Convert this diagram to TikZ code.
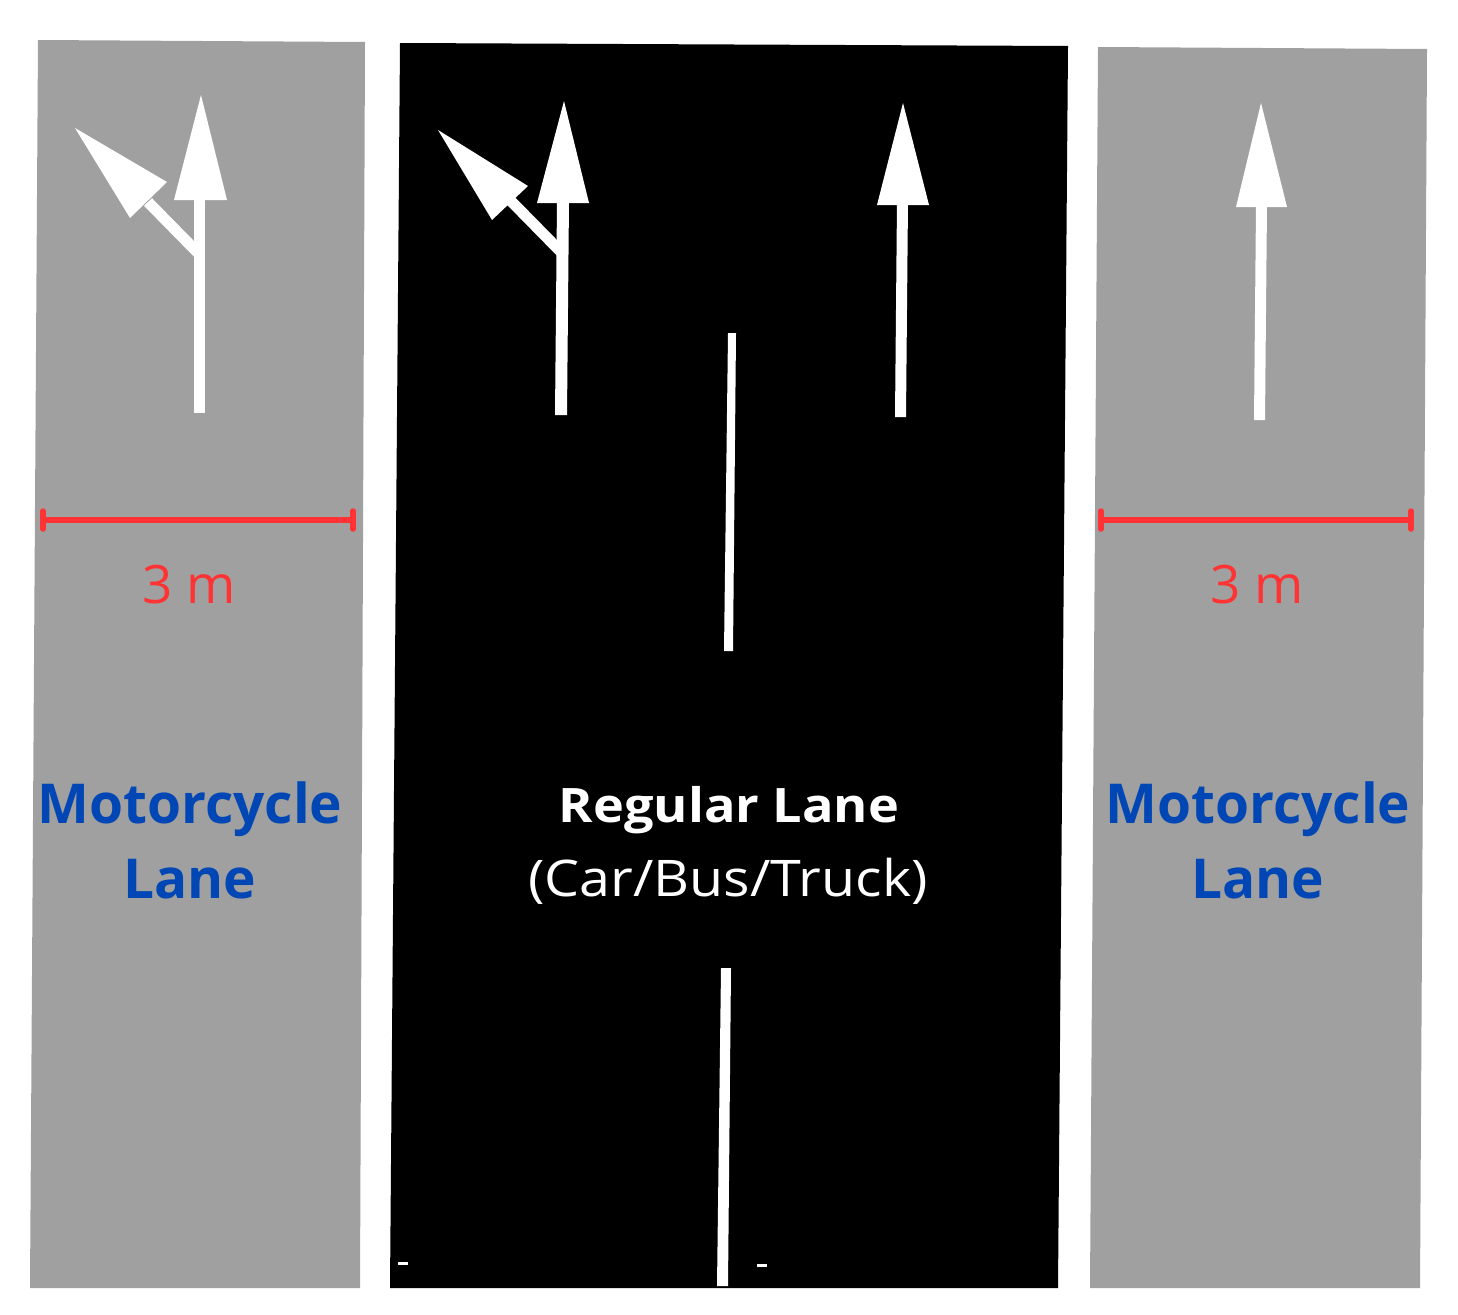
\documentclass[tikz,border=0pt]{standalone}
\usepackage{fontspec}
\setmainfont{Open Sans}
\newfontfamily\widesans[FakeStretch=1.1]{Open Sans}
\definecolor{lanegray}{HTML}{A0A0A0}
\definecolor{dimred}{HTML}{FF3333}
\definecolor{mcblue}{HTML}{0047B5}
\tikzset{
  lanebox/.style={fill=lanegray, draw=none},
  roadbox/.style={fill=black, draw=none},
  marking/.style={fill=white, draw=none},
  markline/.style={draw=white, line width=11pt},
  dimline/.style={draw=dimred, line width=5.5pt, line cap=round},
  dimlabel/.style={text=dimred, font=\fontsize{53}{60}\selectfont, inner sep=0pt},
  mclabel/.style={text=mcblue, font=\bfseries\fontsize{55}{76}\selectfont, align=center, inner sep=0pt},
}
\begin{document}
\begin{tikzpicture}[x=1pt,y=-1pt]
\useasboundingbox (0,0) rectangle (1458,1314);
\fill[white] (0,0) rectangle (1458,1314);
% lanes
\fill[lanebox] (38,40) -- (365,42) -- (360,1288) -- (30,1288) -- cycle;
\fill[roadbox] (400,43) -- (1068,46) -- (1058,1288) -- (390,1288) -- cycle;
\fill[lanebox] (1098,47) -- (1427,49) -- (1420,1288) -- (1090,1288) -- cycle;
% left lane arrow (straight + left)
\fill[marking] (194,198) rectangle (205,413);
\fill[marking] (201,95) -- (174,200) -- (227,200) -- cycle;
\draw[markline] (201,256) -- (148,202);
\fill[marking] (75,128) -- (167,182) -- (130,218) -- cycle;
% middle lane left arrow
\fill[marking] (557,200) -- (569,200) -- (567,415) -- (555,415) -- cycle;
\draw[markline] (563,254) -- (510,200);
\fill[marking] (564,101) -- (537,203) -- (589,203) -- cycle;
\fill[marking] (438,130) -- (528,186) -- (492,220) -- cycle;
% middle lane right arrow
\fill[marking] (897,200) -- (908,200) -- (906,417) -- (895,417) -- cycle;
\fill[marking] (903,103) -- (877,205) -- (929,205) -- cycle;
% right lane arrow
\fill[marking] (1256,204) -- (1267,204) -- (1265,420) -- (1254,420) -- cycle;
\fill[marking] (1261,103) -- (1236,207) -- (1287,207) -- cycle;
% centre dashes
\fill[marking] (728,333) -- (736,333) -- (733,651) -- (724,651) -- cycle;
\fill[marking] (721,968) -- (731,968) -- (728,1286) -- (717,1286) -- cycle;
\fill[marking] (398,1262) rectangle (408,1264.5);
\fill[marking] (757,1264) rectangle (767,1266.5);
% dimension lines
\coordinate (dl1) at (43,520); \coordinate (dl2) at (353,520);
\coordinate (dr1) at (1101,520); \coordinate (dr2) at (1411,520);
\draw[dimline] (dl1) -- (dl2);
\draw[dimline] ([yshift=-9pt]dl1) -- ([yshift=9pt]dl1);
\draw[dimline] ([yshift=-9pt]dl2) -- ([yshift=9pt]dl2);
\draw[dimline] (dr1) -- (dr2);
\draw[dimline] ([yshift=-9pt]dr1) -- ([yshift=9pt]dr1);
\draw[dimline] ([yshift=-9pt]dr2) -- ([yshift=9pt]dr2);
\node[dimlabel, anchor=base] (dimL) at (189,603) {3 m};
\node[dimlabel, anchor=base] (dimR) at (1257,603) {3 m};
% labels
\node[mclabel, anchor=base] (mcL1) at (190,823) {Motorcycle};
\node[mclabel, anchor=base] (mcL2) at (190,898) {Lane};
\node[mclabel, anchor=base] (mcR1) at (1258,823) {Motorcycle};
\node[mclabel, anchor=base] (mcR2) at (1258,898) {Lane};
\node[text=white, font=\widesans\bfseries\fontsize{47.5}{60}\selectfont, anchor=base, inner sep=0pt] (reg) at (729,822) {Regular Lane};
\node[text=white, font=\widesans\fontsize{50.5}{60}\selectfont, anchor=base, inner sep=0pt] (cbt) at (728,896) {(Car/Bus/Truck)};
\end{tikzpicture}
\end{document}
